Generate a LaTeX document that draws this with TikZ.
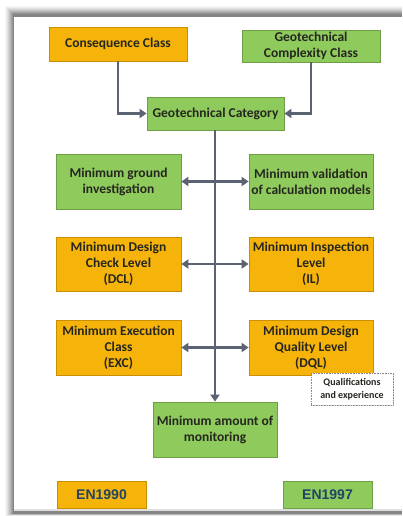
\documentclass[tikz,border=0pt]{standalone}
\usepackage{fontspec}
\setmainfont{Carlito}
\newfontfamily\arialfont{Liberation Sans}
\usetikzlibrary{arrows.meta,shadows}
\definecolor{orfill}{HTML}{F6B40A}
\definecolor{ordraw}{HTML}{C98F00}
\definecolor{grfill}{HTML}{8FCB5C}
\definecolor{grdraw}{HTML}{6E9E45}
\definecolor{linec}{HTML}{5B6272}
\definecolor{txtc}{HTML}{262620}
\definecolor{entxt}{HTML}{1F4466}
\begin{document}
\begin{tikzpicture}[x=1pt,y=-1pt,
  box/.style={draw, line width=0.8pt, align=center, inner sep=0pt,
     font=\fontsize{13.5}{16}\selectfont\bfseries, text=txtc,
     drop shadow={shadow xshift=1.2pt, shadow yshift=-1.2pt, fill=black!35, opacity=0.5}},
  orbox/.style={box, fill=orfill, draw=ordraw},
  grbox/.style={box, fill=grfill, draw=grdraw},
  conn/.style={draw=linec, line width=2.4pt},
  tip/.style={-{Triangle[length=7pt,width=9pt]}},
  dtip/.style={{Triangle[length=7pt,width=9pt]}-{Triangle[length=7pt,width=9pt]}},
  enbox/.style={draw, line width=0.8pt, inner sep=0pt, font=\arialfont\fontsize{14}{16}\selectfont\bfseries, text=entxt}
]
\useasboundingbox (0,0) rectangle (402,516);
% panel shadow
\foreach \i/\o in {0/0.03,1/0.04,2/0.05,3/0.06,4/0.07,5/0.08,6/0.09,7/0.1,8/0.11}{
  \fill[black, opacity=\o] (5+\i,6+\i) rectangle (402,516-\i*0.3);
}
\fill[white] (14,17) rectangle (402,509);
\fill[black!12] (14,509) rectangle (402,511);

% nodes
\node[orbox, minimum width=138pt, minimum height=34pt] (cc) at (118,44) {Consequence Class};
\node[grbox, minimum width=138pt, minimum height=32pt] (gcc) at (311,46) {Geotechnical\\Complexity Class};
\node[grbox, minimum width=137pt, minimum height=33pt] (gc) at (215.5,113.5) {Geotechnical Category};
\node[grbox, minimum width=125pt, minimum height=55pt] (mgi) at (118.5,181.5) {Minimum ground\\investigation};
\node[grbox, minimum width=124pt, minimum height=55pt] (mvc) at (311,181.5) {Minimum validation\\of calculation models};
\node[orbox, minimum width=125pt, minimum height=54pt] (dcl) at (118.5,264) {Minimum Design\\Check Level\\(DCL)};
\node[orbox, minimum width=124pt, minimum height=54pt] (il) at (311,264) {Minimum Inspection\\Level\\(IL)};
\node[orbox, minimum width=125pt, minimum height=55pt] (exc) at (118.5,347.5) {Minimum Execution\\Class\\(EXC)};
\node[orbox, minimum width=124pt, minimum height=55pt] (dql) at (311,347.5) {Minimum Design\\Quality Level\\(DQL)};
\node[draw=black!45, densely dotted, fill=white, line width=0.6pt, minimum width=82pt, minimum height=32pt, align=center, inner sep=0pt,
  font=\fontsize{10}{13}\selectfont\bfseries, text=txtc,
  drop shadow={shadow xshift=1pt, shadow yshift=-1pt, fill=black!30, opacity=0.5}] (qe) at (352,389) {Qualifications\\and experience};
\node[grbox, minimum width=124pt, minimum height=55pt] (mon) at (215,429.5) {Minimum amount of\\monitoring};
\node[enbox, fill=orfill, draw=ordraw, minimum width=89pt, minimum height=27pt] (en0) at (101.5,494.5) {EN1990};
\node[enbox, fill=grfill, draw=grdraw, minimum width=89pt, minimum height=27pt] (en7) at (327.5,494.5) {EN1997};

% connectors
\coordinate (j) at (215,0);
\draw[conn, tip] (cc.south) |- (gc.west);
\draw[conn, tip] (gcc.south) |- (gc.east);
\draw[conn, tip] (gc.south -| j) -- (mon.north -| j);
\draw[conn, dtip] (mgi.east) -- (mvc.west);
\draw[conn, dtip] (dcl.east) -- (il.west);
\draw[conn, dtip] (exc.east) -- (dql.west);
\end{tikzpicture}
\end{document}
